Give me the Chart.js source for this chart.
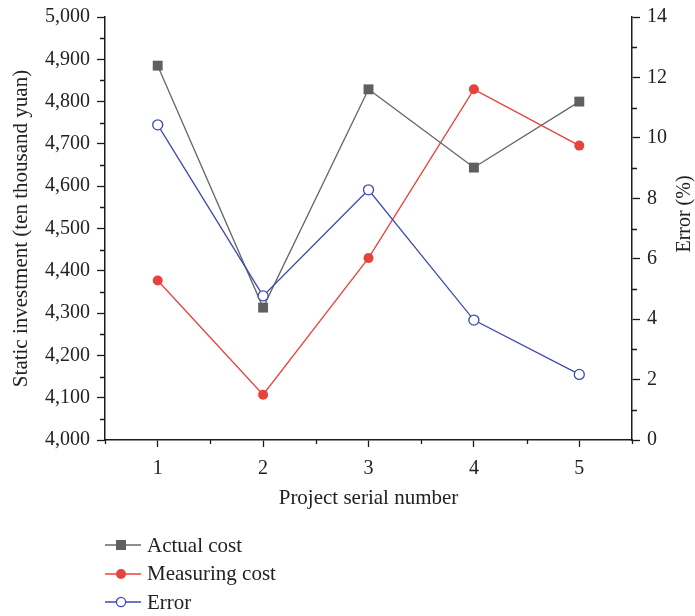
<!DOCTYPE html>
<html>
<head>
<meta charset="utf-8">
<script src="https://cdn.jsdelivr.net/npm/chart.js@4.4.1/dist/chart.umd.min.js"></script>
<style>
  html, body { margin: 0; padding: 0; background: #fff; }
  #wrap { position: relative; width: 695px; height: 616px; }
  #legend { position: absolute; left: 105px; top: 531px; font-family: "Liberation Serif", serif; font-size: 21px; color: #222; }
  .row { height: 28.5px; display: flex; align-items: center; white-space: nowrap; }
  .row svg { margin-right: 6px; }
</style>
</head>
<body>
<div id="wrap">
  <canvas id="c" width="695" height="616"></canvas>
  <div id="legend"></div>
</div>
<script>
// ---- data ----
const projects = [1, 2, 3, 4, 5];
const actualCost = [4885, 4313, 4829, 4644, 4800];
const measuringCost = [4377, 4107, 4430, 4829, 4696];
const errorPct = [10.43, 4.77, 8.28, 3.97, 2.17];
const leftTicks = [4000, 4100, 4200, 4300, 4400, 4500, 4600, 4700, 4800, 4900, 5000];
const rightTicks = [0, 2, 4, 6, 8, 10, 12, 14];
const xTicks = [1, 2, 3, 4, 5];
const seriesNames = ["Actual cost", "Measuring cost", "Error"];

const FONT = "'Liberation Serif', 'Times New Roman', serif";
const AX = '#1a1a1a';
const GRAY = '#5f5f5f', RED = '#e8423c', BLUE = '#3d4ab4';

const pts = (arr) => projects.map((p, i) => ({ x: p, y: arr[i] }));

const minorTicks = {
  id: 'minorTicks',
  afterDraw(chart) {
    const ctx = chart.ctx;
    const { x, y, y2 } = chart.scales;
    const area = chart.chartArea;
    ctx.save();
    ctx.strokeStyle = AX;
    ctx.lineWidth = 1.3;
    ctx.beginPath();
    for (let v = 4050; v < 5000; v += 100) {
      const py = Math.round(y.getPixelForValue(v)) + 0.5;
      ctx.moveTo(area.left - 5, py); ctx.lineTo(area.left, py);
    }
    for (let v = 1; v < 14; v += 2) {
      const py = Math.round(y2.getPixelForValue(v)) + 0.5;
      ctx.moveTo(area.right, py); ctx.lineTo(area.right + 5, py);
    }
    for (let v = 0.5; v <= 5.5; v += 1) {
      const px = Math.round(x.getPixelForValue(v)) + 0.5;
      ctx.moveTo(px, area.bottom); ctx.lineTo(px, area.bottom + 4);
    }
    ctx.stroke();
    // right axis title, reading bottom-to-top
    ctx.fillStyle = '#222';
    ctx.font = "20px " + FONT;
    ctx.textAlign = 'center';
    ctx.textBaseline = 'middle';
    ctx.translate(685, 214);
    ctx.rotate(-Math.PI / 2);
    ctx.fillText('Error (%)', 0, 0);
    ctx.restore();
  }
};

const setTicks = (vals) => (scale) => { scale.ticks = vals.map(v => ({ value: v })); };

new Chart(document.getElementById('c'), {
  type: 'line',
  data: {
    datasets: [
      { label: seriesNames[0], data: pts(actualCost), yAxisID: 'y', borderColor: '#676767', borderWidth: 1.3,
        pointStyle: 'rect', pointRadius: 7, pointBackgroundColor: GRAY, pointBorderColor: GRAY, pointBorderWidth: 0, order: 2 },
      { label: seriesNames[1], data: pts(measuringCost), yAxisID: 'y', borderColor: RED, borderWidth: 1.3,
        pointStyle: 'circle', pointRadius: 5, pointBackgroundColor: RED, pointBorderColor: RED, pointBorderWidth: 0, order: 3 },
      { label: seriesNames[2], data: pts(errorPct), yAxisID: 'y2', borderColor: BLUE, borderWidth: 1.3,
        pointStyle: 'circle', pointRadius: 5, pointBackgroundColor: '#fff', pointBorderColor: BLUE, pointBorderWidth: 1.3, order: 1 }
    ]
  },
  options: {
    responsive: false,
    animation: false,
    layout: { padding: { top: 12, right: 0, bottom: 96, left: 0 } },
    plugins: { legend: { display: false }, tooltip: { enabled: false } },
    scales: {
      x: {
        type: 'linear', min: 0.5, max: 5.5,
        afterBuildTicks: setTicks(xTicks),
        afterFit: (s) => { s.height = 80; },
        ticks: { color: '#222', font: { family: FONT, size: 20 }, padding: 10, autoSkip: false, maxRotation: 0 },
        grid: { drawOnChartArea: false, drawTicks: true, tickLength: 7, tickColor: AX, tickWidth: 1.3 },
        border: { display: true, color: AX, width: 1.5 },
        title: { display: true, text: 'Project serial number', color: '#222', font: { family: FONT, size: 21 }, padding: { top: 0, bottom: 9 } }
      },
      y: {
        position: 'left', min: 4000, max: 5000,
        afterBuildTicks: setTicks(leftTicks),
        afterFit: (s) => { s.width = 105; },
        ticks: { color: '#222', font: { family: FONT, size: 20, lineHeight: 1 }, padding: 7,
          callback: (v) => Number(v).toLocaleString('en-US') },
        grid: { drawOnChartArea: false, drawTicks: true, tickLength: 8, tickColor: AX, tickWidth: 1.3 },
        border: { display: true, color: AX, width: 1.5 },
        title: { display: true, text: 'Static investment (ten thousand yuan)', color: '#222', font: { family: FONT, size: 21 }, padding: { top: 9, bottom: 0 } }
      },
      y2: {
        position: 'right', min: 0, max: 14,
        afterBuildTicks: setTicks(rightTicks),
        afterFit: (s) => { s.width = 63; },
        ticks: { color: '#222', font: { family: FONT, size: 20, lineHeight: 1 }, padding: 7 },
        grid: { drawOnChartArea: false, drawTicks: true, tickLength: 8, tickColor: AX, tickWidth: 1.3 },
        border: { display: true, color: AX, width: 1.5 }
      }
    }
  },
  plugins: [minorTicks]
});

// HTML legend
const legendSpec = [
  { name: seriesNames[0], line: '#676767', marker: `<rect x="11" y="2" width="10" height="10" fill="${GRAY}"/>` },
  { name: seriesNames[1], line: RED, marker: `<circle cx="16" cy="7" r="5" fill="${RED}"/>` },
  { name: seriesNames[2], line: BLUE, marker: `<circle cx="16" cy="7" r="4.6" fill="#fff" stroke="${BLUE}" stroke-width="1.3"/>` }
];
const lg = document.getElementById('legend');
legendSpec.forEach(it => {
  const row = document.createElement('div');
  row.className = 'row';
  row.innerHTML = `<svg width="36" height="14" viewBox="0 0 36 14"><line x1="0" y1="7" x2="36" y2="7" stroke="${it.line}" stroke-width="1.3"/>${it.marker}</svg><span>${it.name}</span>`;
  lg.appendChild(row);
});
</script>
</body>
</html>
